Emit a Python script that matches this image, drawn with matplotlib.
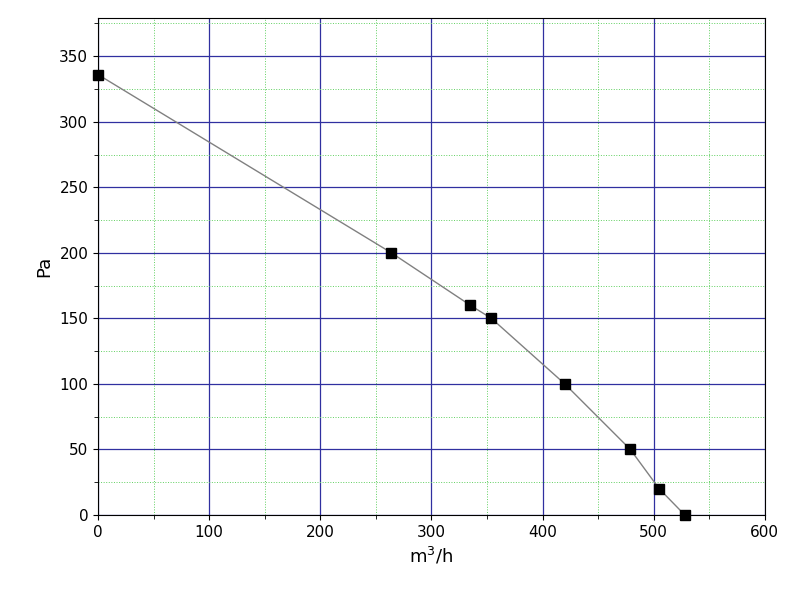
import matplotlib
matplotlib.use("Agg")
import matplotlib.pyplot as plt
from matplotlib.ticker import MultipleLocator

flow = [0, 264, 335, 354, 420, 479, 505, 528]
pressure = [336, 200, 160, 150, 100, 50, 20, 0]

fig = plt.figure(figsize=(8, 6.07), dpi=100)
ax = fig.add_axes([0.1225, 0.1516, 0.8335, 0.8184])

ax.plot(flow, pressure, color='#808080', lw=1, zorder=3)
ax.plot(flow, pressure, 's', color='black', ms=7, zorder=4, clip_on=False)

ax.set_xlim(0, 600)
ax.set_ylim(0, 379)
ax.xaxis.set_major_locator(MultipleLocator(100))
ax.xaxis.set_minor_locator(MultipleLocator(50))
ax.yaxis.set_major_locator(MultipleLocator(50))
ax.yaxis.set_minor_locator(MultipleLocator(25))
ax.grid(which='major', color='#3030a0', lw=0.9)
ax.grid(which='minor', color='#60d060', lw=0.7, ls=':')
ax.tick_params(which='both', direction='out', labelsize=11)
ax.tick_params(which='minor', length=3)

ax.set_xlabel('m$^3$/h', fontsize=13)
ax.set_ylabel('Pa', fontsize=13)

fig.savefig('out.png')
